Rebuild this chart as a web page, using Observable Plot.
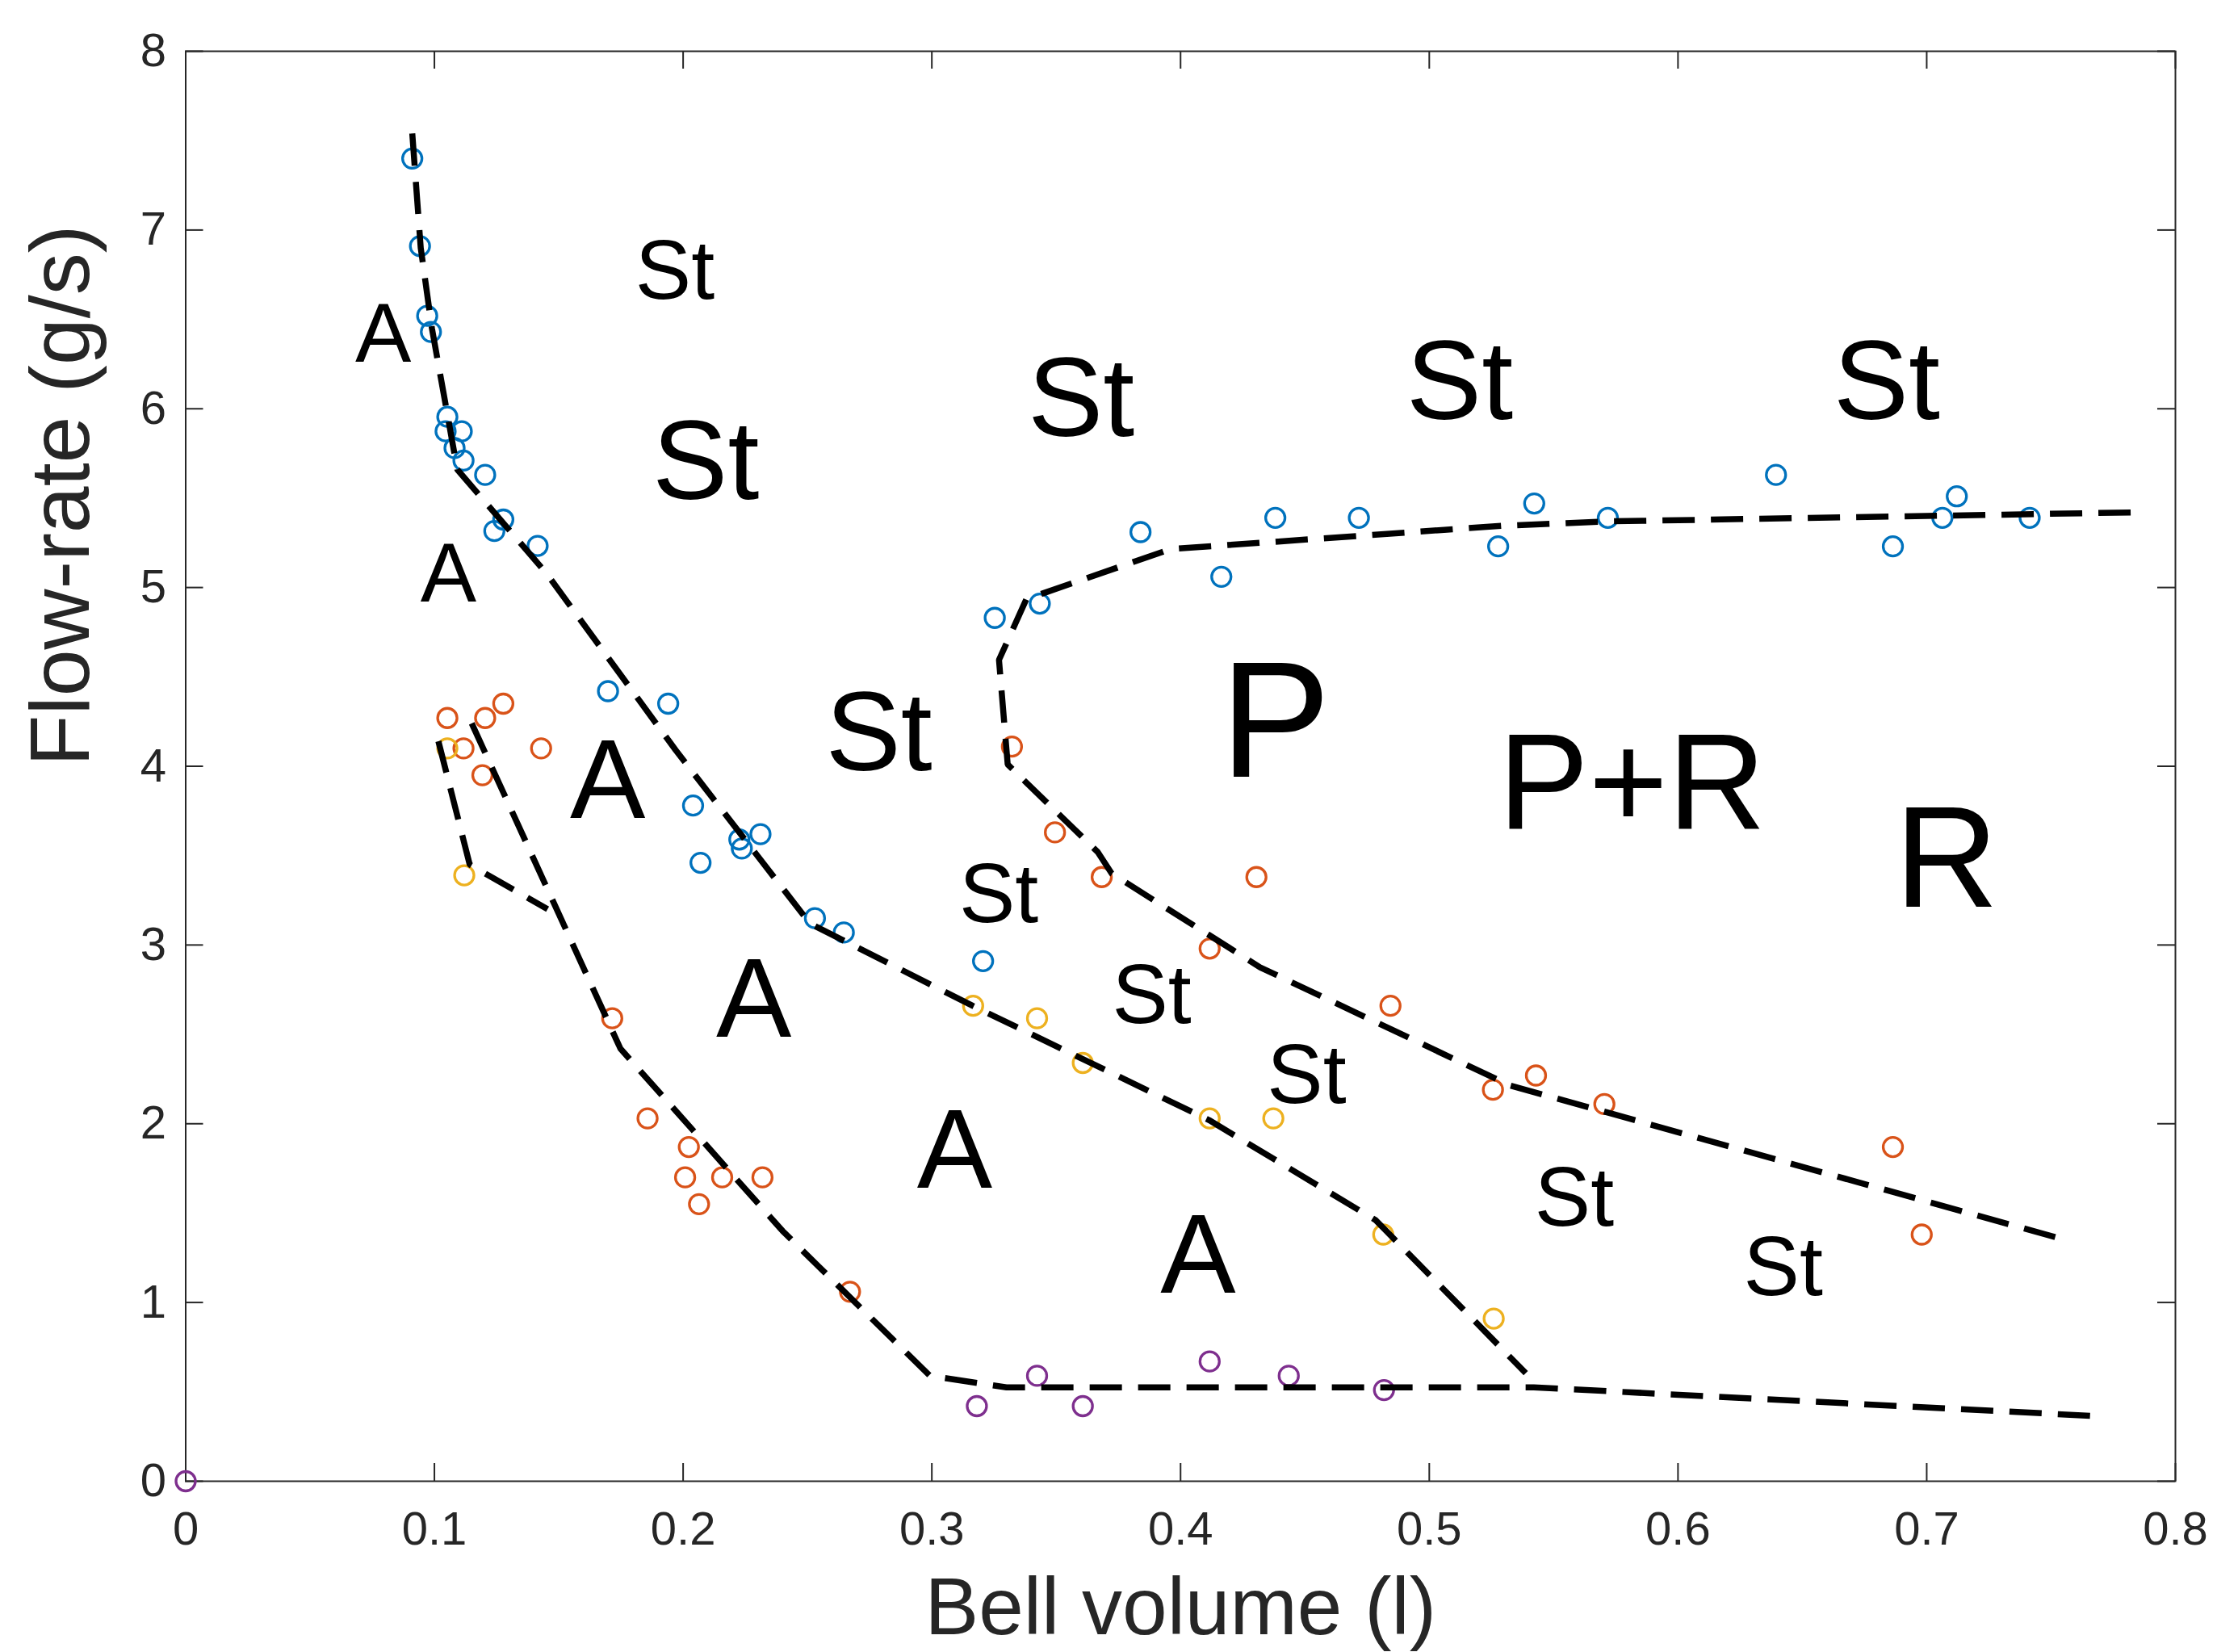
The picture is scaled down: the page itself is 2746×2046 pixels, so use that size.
<!DOCTYPE html>
<html>
<head>
<meta charset="utf-8">
<script src="https://cdn.jsdelivr.net/npm/d3@7"></script>
<script src="https://cdn.jsdelivr.net/npm/@observablehq/plot@0.6"></script>
<style>
  html, body { margin: 0; padding: 0; background: #ffffff; }
</style>
</head>
<body>
<div id="chart"></div>
<script>
// ---------- data ----------
const xTicks = [0, 0.1, 0.2, 0.3, 0.4, 0.5, 0.6, 0.7, 0.8];
const yTicks = [0, 1, 2, 3, 4, 5, 6, 7, 8];
const xLabel = "Bell volume (l)";
const yLabel = "Flow-rate (g/s)";

// measured points [bell volume, flow-rate]
const bluePts = [
  [0.0911, 7.40], [0.0942, 6.91], [0.0971, 6.52], [0.0986, 6.43],
  [0.1052, 5.955], [0.1045, 5.874], [0.1110, 5.874], [0.1081, 5.78],
  [0.1117, 5.71], [0.1204, 5.63], [0.1277, 5.38], [0.1241, 5.316],
  [0.1415, 5.233], [0.1698, 4.42], [0.1940, 4.35], [0.2040, 3.78],
  [0.2070, 3.46], [0.2226, 3.59], [0.2236, 3.54], [0.2311, 3.62],
  [0.2530, 3.15], [0.2646, 3.07], [0.3206, 2.91], [0.3253, 4.83],
  [0.3434, 4.91], [0.3839, 5.31], [0.4164, 5.06], [0.4381, 5.39],
  [0.4717, 5.39], [0.5277, 5.23], [0.5422, 5.47], [0.5718, 5.39],
  [0.6394, 5.63], [0.6864, 5.23], [0.7063, 5.39], [0.7121, 5.51],
  [0.7414, 5.39]
];
const orangePts = [
  [0.1052, 4.27], [0.1204, 4.27], [0.1277, 4.35], [0.1117, 4.10],
  [0.1429, 4.10], [0.1193, 3.95], [0.1715, 2.59], [0.1857, 2.03],
  [0.2023, 1.87], [0.2008, 1.70], [0.2064, 1.55], [0.2157, 1.70],
  [0.2319, 1.70], [0.2671, 1.06], [0.3322, 4.11], [0.3495, 3.63],
  [0.3683, 3.38], [0.4305, 3.38], [0.4117, 2.98], [0.4844, 2.66],
  [0.5256, 2.19], [0.5429, 2.27], [0.5704, 2.11], [0.6864, 1.87],
  [0.6980, 1.38]
];
const yellowPts = [
  [0.1052, 4.10], [0.1120, 3.39], [0.3166, 2.66], [0.3423, 2.59],
  [0.3607, 2.34], [0.4117, 2.03], [0.4373, 2.03], [0.4815, 1.38],
  [0.5259, 0.91]
];
const purplePts = [
  [0, 0], [0.3181, 0.42], [0.3423, 0.59], [0.3607, 0.42],
  [0.4117, 0.67], [0.4435, 0.59], [0.4818, 0.51]
];

// dashed regime boundaries [bell volume, flow-rate]
const boundaryA = [
  [0.0911, 7.54], [0.0945, 6.90], [0.0990, 6.45], [0.1092, 5.66],
  [0.1450, 5.08], [0.1970, 4.09], [0.2510, 3.12], [0.3164, 2.66],
  [0.4115, 2.02], [0.4785, 1.46], [0.5388, 0.605]
];
const boundaryB = [
  [0.1016, 4.14], [0.1142, 3.45], [0.1455, 3.20]
];
const boundaryC = [
  [0.1150, 4.24], [0.1748, 2.42], [0.2400, 1.40], [0.2992, 0.59],
  [0.3300, 0.525], [0.5420, 0.525], [0.7660, 0.366]
];
const boundaryD = [
  [0.7820, 5.42], [0.5718, 5.37], [0.5290, 5.345], [0.3960, 5.215],
  [0.3380, 4.935], [0.3270, 4.595], [0.3305, 4.01], [0.3667, 3.52],
  [0.3723, 3.40], [0.4320, 2.875], [0.5323, 2.215], [0.7575, 1.343]
];

// regime labels
const labelText = ["A", "St", "St", "A", "A", "St", "St", "St", "St", "P",
                   "P+R", "R", "St", "A", "St", "St", "A", "St", "A", "St"];
const labelX = [0.0794, 0.1967, 0.2091, 0.1056, 0.1697, 0.2787, 0.3600, 0.5122, 0.6839, 0.4381,
                0.5815, 0.7080, 0.3269, 0.2284, 0.3884, 0.4507, 0.3092, 0.5583, 0.4070, 0.6423];
const labelY = [6.415, 6.767, 5.698, 5.073, 3.913, 4.181, 6.048, 6.146, 6.146, 4.237,
                3.893, 3.470, 3.277, 2.689, 2.712, 2.268, 1.846, 1.582, 1.259, 1.191];
const labelClass = ["s", "s", "m", "s", "m", "m", "m", "m", "m", "P",
                    "PR", "R", "s", "m", "s", "s", "m", "s", "m", "s"];

// ---------- layout & style ----------
const W = 2746, H = 2046;
const mTop = 63, mBottom = 212, mLeft = 229.5, mRight = 52;
const plotW = W - mLeft - mRight, plotH = H - mTop - mBottom;
const tickLen = 22;
const axisColor = "#262626";
const classSize = {s: 104, m: 140, P: 205, PR: 168, R: 178};
const seriesColor = {blue: "#0072BD", orange: "#D95319", yellow: "#EDB120", purple: "#7E2F8E"};

const labels = labelText.map((t, i) => ({t, x: labelX[i], y: labelY[i], c: labelClass[i]}));

const dotMark = (pts, color) => Plot.dot(pts, {
  x: d => d[0], y: d => d[1], r: 12, stroke: color, strokeWidth: 3.3, fill: "none"
});
const lineMark = (pts) => Plot.line(pts, {
  x: d => d[0], y: d => d[1], stroke: "#000000", strokeWidth: 7.5,
  strokeDasharray: "40,20", strokeLinecap: "butt", strokeLinejoin: "miter"
});

const textMarks = Object.keys(classSize).map(c => Plot.text(labels.filter(d => d.c === c), {
  x: "x", y: "y", text: "t", fontSize: classSize[c], fill: "#000000"
}));

const chart = Plot.plot({
  width: W, height: H,
  marginTop: mTop, marginBottom: mBottom, marginLeft: mLeft, marginRight: mRight,
  x: {domain: [0, 0.8]},
  y: {domain: [0, 8]},
  style: {fontFamily: "'Liberation Sans', Arial, Helvetica, sans-serif", background: "#ffffff"},
  marks: [
    // inward tick marks on all four sides
    Plot.ruleX(xTicks, {x: d => d, insetTop: plotH - tickLen, stroke: axisColor, strokeWidth: 2}),
    Plot.ruleX(xTicks, {x: d => d, insetBottom: plotH - tickLen, stroke: axisColor, strokeWidth: 2}),
    Plot.ruleY(yTicks, {y: d => d, insetRight: plotW - tickLen, stroke: axisColor, strokeWidth: 2}),
    Plot.ruleY(yTicks, {y: d => d, insetLeft: plotW - tickLen, stroke: axisColor, strokeWidth: 2}),
    Plot.frame({stroke: axisColor, strokeWidth: 2}),
    Plot.axisX(xTicks, {tickSize: 0, tickPadding: 37, fontSize: 58, color: axisColor, label: null, tickFormat: d => String(d)}),
    Plot.axisY(yTicks, {tickSize: 0, tickPadding: 24, fontSize: 58, color: axisColor, label: null, tickFormat: d => String(d)}),
    dotMark(bluePts, seriesColor.blue),
    dotMark(orangePts, seriesColor.orange),
    dotMark(yellowPts, seriesColor.yellow),
    dotMark(purplePts, seriesColor.purple),
    lineMark(boundaryA),
    lineMark(boundaryB),
    lineMark(boundaryC),
    lineMark(boundaryD),
    ...textMarks,
    Plot.text([xLabel], {frameAnchor: "bottom", text: d => d, dy: 189, lineAnchor: "bottom", fontSize: 100, fill: axisColor}),
    Plot.text([yLabel], {frameAnchor: "left", text: d => d, dx: -120, rotate: -90, lineAnchor: "bottom", fontSize: 104, fill: axisColor})
  ]
});
document.getElementById("chart").appendChild(chart);
</script>
</body>
</html>
